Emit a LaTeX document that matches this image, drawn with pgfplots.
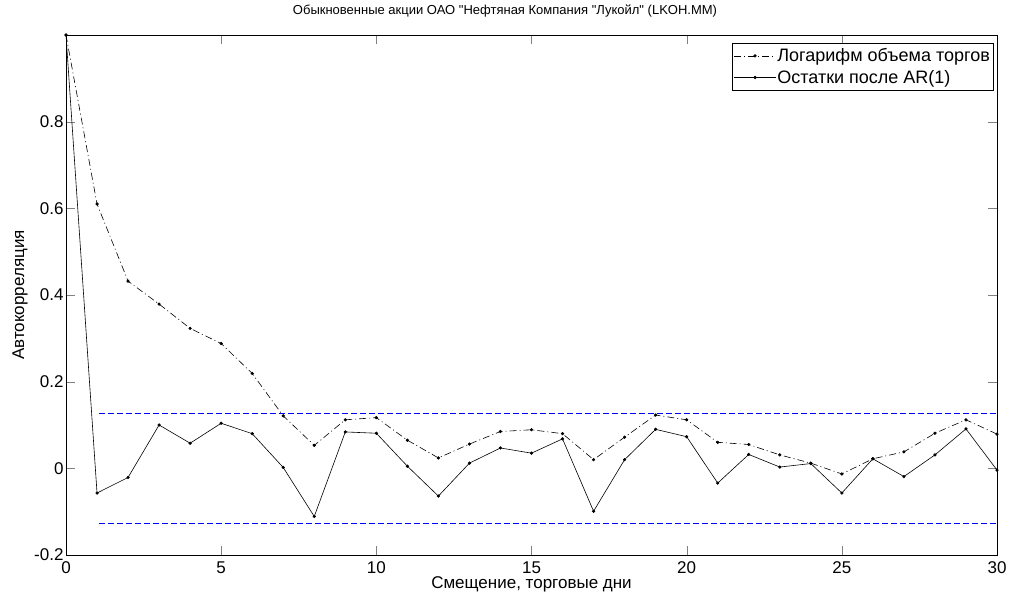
\documentclass[border=0pt]{standalone}
\usepackage{pgfplots}
\pgfplotsset{compat=1.18}
\usepackage{fontspec}
\setmainfont{Liberation Sans}
\definecolor{mblue}{RGB}{0,0,255}
\begin{document}
\begin{tikzpicture}
\useasboundingbox (-66pt,-43pt) rectangle (944pt,555pt);
\begin{axis}[
  at={(0,0)}, anchor=south west,
  scale only axis, width=931pt, height=520pt,
  xmin=0, xmax=30, ymin=-0.2, ymax=1.0,
  xtick={0,5,...,30},
  ytick={-0.2,0,0.2,0.4,0.6,0.8},
  tick align=inside, tick pos=both,
  major tick length=9pt,
  font=\fontsize{17}{20}\selectfont,
  /pgf/number format/assume math mode=true,
  yticklabel style={/pgf/number format/fixed, /pgf/number format/precision=1, xshift=1pt},
  xticklabel style={anchor=base, yshift=-18pt},
  title={Обыкновенные акции ОАО \textquotedbl Нефтяная Компания \textquotedbl Лукойл\textquotedbl{} (LKOH.MM)},
  title style={at={(axis description cs:0.4715,1.0288)}, anchor=base, font=\fontsize{13}{15}\selectfont},
  xlabel={Смещение, торговые дни},
  xlabel style={at={(axis description cs:0.5,-0.0635)}, anchor=base},
  ylabel={Автокорреляция},
  ylabel style={at={(axis description cs:-0.0451,0.5)}, anchor=base},
  legend cell align=left,
  legend style={at={(axis description cs:0.9957,0.985)}, anchor=north east,
    draw=black, font=\fontsize{18}{21}\selectfont, row sep=0pt,
    inner xsep=2pt, inner ysep=2pt, nodes={inner xsep=1pt, inner ysep=3.5pt}},
  legend image code/.code={\draw[mark repeat=2,mark phase=2,#1] plot coordinates {(0pt,0pt) (21pt,0pt) (42pt,0pt)};},
]
\addplot[black, line width=0.6pt, dash pattern=on 7pt off 3pt on 1pt off 3pt, mark=*, mark size=1.3pt, mark options={solid}] coordinates {
(0,1.0) (1,0.610) (2,0.432) (3,0.379) (4,0.323) (5,0.288) (6,0.219) (7,0.121) (8,0.053) (9,0.112) (10,0.117)
(11,0.065) (12,0.024) (13,0.056) (14,0.085) (15,0.089) (16,0.080) (17,0.020) (18,0.072) (19,0.123) (20,0.112)
(21,0.060) (22,0.055) (23,0.031) (24,0.012) (25,-0.013) (26,0.022) (27,0.038) (28,0.081) (29,0.112) (30,0.079)
};
\addlegendentry{Логарифм объема торгов\hspace{8pt}}
\addplot[black, line width=0.6pt, mark=*, mark size=1.3pt] coordinates {
(0,1.0) (1,-0.057) (2,-0.021) (3,0.100) (4,0.058) (5,0.104) (6,0.080) (7,0.002) (8,-0.111) (9,0.084) (10,0.081)
(11,0.005) (12,-0.064) (13,0.012) (14,0.047) (15,0.035) (16,0.068) (17,-0.099) (18,0.020) (19,0.090) (20,0.073)
(21,-0.034) (22,0.032) (23,0.003) (24,0.011) (25,-0.057) (26,0.022) (27,-0.019) (28,0.031) (29,0.091) (30,-0.004)
};
\addlegendentry{Остатки после AR(1)}
\addplot[draw=mblue, line width=1pt, dash pattern=on 6pt off 3pt, forget plot] coordinates {(1.05,0.1265) (30,0.1265)};
\addplot[draw=mblue, line width=1pt, dash pattern=on 6pt off 3pt, forget plot] coordinates {(1.05,-0.1265) (30,-0.1265)};
\end{axis}
\end{tikzpicture}
\end{document}
